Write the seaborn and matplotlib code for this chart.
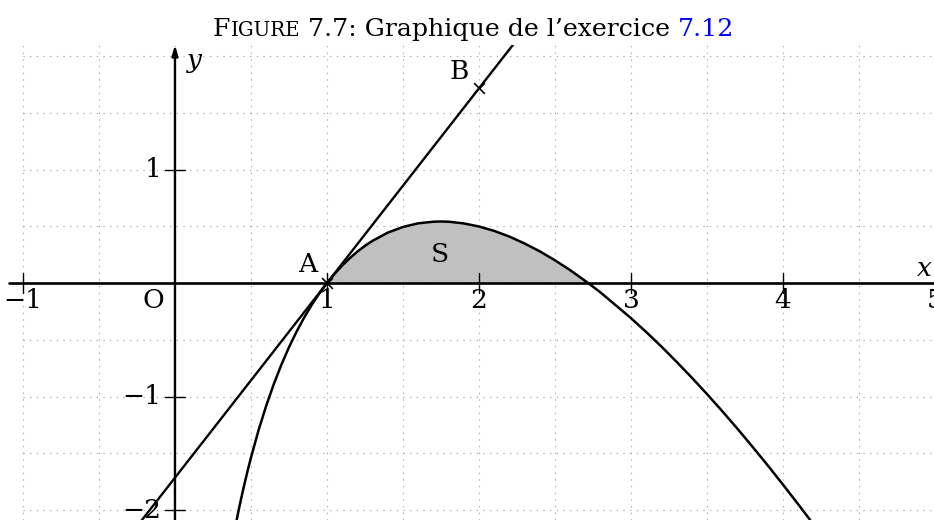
import matplotlib
matplotlib.use('Agg')
import matplotlib.pyplot as plt
import numpy as np
import pandas as pd
import seaborn as sns

# curve
curve_x = [0.38, 0.42, 0.44, 0.46, 0.48, 0.5, 0.55, 0.6, 0.65, 0.7, 0.75, 0.8, 0.85, 0.9, 0.95,
           1.0, 1.05, 1.1, 1.15, 1.2, 1.25, 1.3, 1.4, 1.5, 1.6, 1.7, 1.75, 1.8, 1.9, 2.0,
           2.1, 2.2, 2.3, 2.4, 2.5, 2.6, 2.718, 2.8, 3.0, 3.1, 3.2, 3.3, 3.4, 3.5, 3.6,
           3.7, 3.8, 3.9, 4.0, 4.1, 4.2]
curve_y = [-2.263, -1.994, -1.871, -1.754, -1.643, -1.538, -1.296, -1.082, -0.891, -0.720,
           -0.566, -0.428, -0.304, -0.192, -0.091, 0.0, 0.081, 0.154, 0.219, 0.277, 0.328,
           0.372, 0.444, 0.494, 0.526, 0.540, 0.542, 0.540, 0.525, 0.498, 0.459, 0.409,
           0.348, 0.279, 0.200, 0.113, 0.0, -0.084, -0.310, -0.432, -0.560, -0.695, -0.834,
           -0.979, -1.129, -1.284, -1.444, -1.608, -1.777, -1.950, -2.126]

tangent_x = [-0.3, 2.3]
tangent_y = [-2.23, 2.23]

point_names = ['A', 'B']
point_x = [1.0, 2.0]
point_y = [0.0, 1.72]

x_ticks = [-1, 1, 2, 3, 4, 5]
y_ticks = [-2, -1, 1]

W, H = 934, 520
x_min, x_max = -1.151, 4.993
y_min, y_max = -2.088, 2.097

sns.set_style('white')
plt.rcParams['font.family'] = ['DejaVu Serif']
plt.rcParams['text.color'] = 'black'

fig = plt.figure(figsize=(W / 100, H / 100), dpi=100)
ax = fig.add_axes([0, 0, 1, (H - 45) / H])

# dotted grid every 0.5
for gx in np.arange(-1, 5.01, 0.5):
    ax.plot([gx, gx], [y_min, y_max], color='#9a9a9a', lw=0.8, ls=(0, (1, 5)), zorder=0)
for gy in np.arange(-2, 2.01, 0.5):
    ax.plot([-1, x_max], [gy, gy], color='#9a9a9a', lw=0.8, ls=(0, (1, 5)), zorder=0)

curve_df = pd.DataFrame({'x': curve_x, 'y': curve_y})
tangent_df = pd.DataFrame({'x': tangent_x, 'y': tangent_y})

area = curve_df[(curve_df['x'] >= 1.0) & (curve_df['x'] <= 2.718)]
ax.fill_between(area['x'], 0, area['y'], color='#c0c0c0', lw=0, zorder=1)

# axes
ax.plot([-1.09, x_max + 0.1], [0, 0], color='black', lw=1.9, zorder=3)
ax.annotate('', xy=(0, y_max), xytext=(0, y_min - 0.1),
            arrowprops=dict(arrowstyle='-|>,head_length=0.6,head_width=0.18',
                            color='black', lw=1.7, shrinkA=0, shrinkB=0), zorder=3)

sns.lineplot(data=curve_df, x='x', y='y', sort=False, estimator=None, color='black', lw=1.8, ax=ax, zorder=4)
sns.lineplot(data=tangent_df, x='x', y='y', sort=False, estimator=None, color='black', lw=1.7, ax=ax, zorder=4)

sns.scatterplot(x=point_x, y=point_y, marker='x', s=60, color='black', linewidth=1.2, ax=ax, zorder=5)

ax.set_xlim(x_min, x_max)
ax.set_ylim(y_min, y_max)
ax.axis('off')

fs = 19
dy = 10 / 113.5
dx = 10 / 152
for t in x_ticks:
    ax.plot([t, t], [-dy, dy], color='black', lw=1.0, zorder=3)
    lab = str(t) if t >= 0 else '\u2212' + str(-t)
    ax.text(t, -0.04, lab, ha='center', va='top', fontsize=fs, zorder=6)
for t in y_ticks:
    ax.plot([-dx, dx], [t, t], color='black', lw=1.0, zorder=3)
    lab = str(t) if t >= 0 else '\u2212' + str(-t)
    ax.text(-0.09, t, lab, ha='right', va='center', fontsize=fs, zorder=6)

ax.text(-0.14, -0.15, 'O', ha='center', va='center', fontsize=fs)
ax.text(0.87, 0.16, 'A', ha='center', va='center', fontsize=fs)
ax.text(1.87, 1.86, 'B', ha='center', va='center', fontsize=fs)
ax.text(1.74, 0.25, 'S', ha='center', va='center', fontsize=fs)
ax.text(0.13, 1.96, 'y', ha='center', va='center', fontsize=fs, style='italic')
ax.text(4.93, 0.13, 'x', ha='center', va='center', fontsize=fs, style='italic')

# title with small caps
renderer = fig.canvas.get_renderer()
tfs = 18.2
pieces = [('F', tfs, 'black'), ('IGURE', tfs * 0.78, 'black'),
          (' 7.7: Graphique de l\u2019exercice ', tfs, 'black'), ('7.12', tfs, '#0000ff')]
texts = []
for s, size, c in pieces:
    texts.append(fig.text(0, 1 - 36 / H, s, fontsize=size, color=c, va='baseline', ha='left'))
widths = [t.get_window_extent(renderer).width for t in texts]
x0 = 213.0
for t, w in zip(texts, widths):
    t.set_x(x0 / W)
    x0 += w

fig.savefig('out.png', dpi=100)
